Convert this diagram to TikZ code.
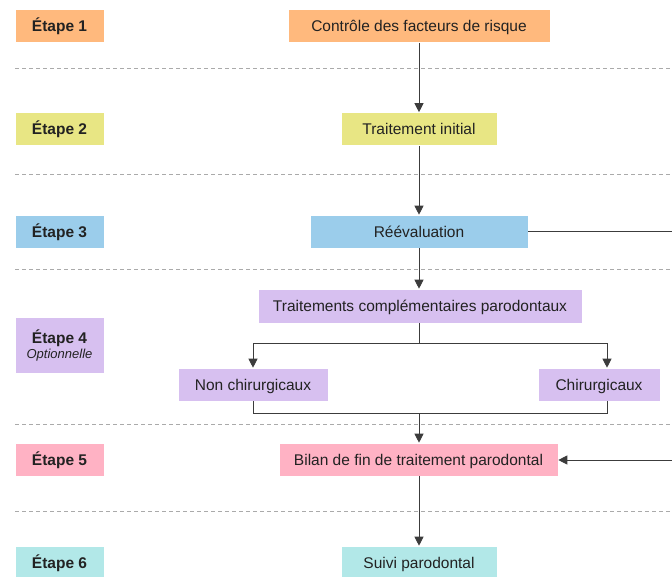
\documentclass[tikz,border=0pt]{standalone}
\usepackage{fontspec}
\setmainfont{Liberation Sans}
\usetikzlibrary{arrows.meta}
\definecolor{cOrange}{RGB}{255,185,125}
\definecolor{cYellow}{RGB}{232,230,132}
\definecolor{cBlue}{RGB}{155,205,235}
\definecolor{cPurple}{RGB}{215,192,240}
\definecolor{cPink}{RGB}{255,178,196}
\definecolor{cCyan}{RGB}{178,232,232}
\definecolor{cText}{RGB}{34,34,34}
\definecolor{cLine}{RGB}{60,60,60}
\definecolor{cDash}{RGB}{170,170,170}
\tikzset{
  box/.style={draw=white, line width=0.6pt, inner sep=0pt, minimum height=33pt, text=cText,
    font=\fontsize{15.5}{18}\selectfont, text height=11pt, text depth=0pt},
  stagebox/.style={box, minimum width=89pt, font=\fontsize{15.5}{18}\selectfont\bfseries},
  conn/.style={draw=cLine, line width=0.9pt},
  arr/.style={conn, -{Triangle[length=9pt,width=9pt]}},
  sep/.style={draw=cDash, line width=0.8pt, dash pattern=on 4pt off 3pt}
}
\begin{document}
\begin{tikzpicture}[x=1pt,y=-1pt]
\useasboundingbox (0,0) rectangle (672,576);
\clip (0,0) rectangle (672,576);
% separators
\foreach \yy in {68,174,269,424,511} \draw[sep] (15,\yy) -- (672,\yy);
% stage labels
\node[stagebox, fill=cOrange] (e1) at (59.5,26) {Étape 1};
\node[stagebox, fill=cYellow] (e2) at (59.5,129) {Étape 2};
\node[stagebox, fill=cBlue] (e3) at (59.5,231.5) {Étape 3};
\node[stagebox, fill=cPurple, minimum height=56pt, align=center, text height=, text depth=] (e4) at (59.5,345) {Étape 4\\[-3pt]{\mdseries\itshape\fontsize{13}{15}\selectfont Optionnelle}};
\node[stagebox, fill=cPink] (e5) at (59.5,459.5) {Étape 5};
\node[stagebox, fill=cCyan] (e6) at (59.5,562.5) {Étape 6};
% main flow
\node[box, fill=cOrange, minimum width=262pt] (n1) at (419,26) {Contrôle des facteurs de risque};
\node[box, fill=cYellow, minimum width=156pt] (n2) at (419,129) {Traitement initial};
\node[box, fill=cBlue, minimum width=218pt] (n3) at (419,231.5) {Réévaluation};
\node[box, fill=cPurple, minimum width=324pt, minimum height=34pt] (n4) at (420,306) {Traitements complémentaires parodontaux};
\node[box, fill=cPurple, minimum width=150pt] (n5) at (253,384.5) {Non chirurgicaux};
\node[box, fill=cPurple, minimum width=122pt] (n6) at (599,384.5) {Chirurgicaux};
\node[box, fill=cPink, minimum width=279pt] (n7) at (418.5,459.5) {Bilan de fin de traitement parodontal};
\node[box, fill=cCyan, minimum width=156pt] (n8) at (419,562.5) {Suivi parodontal};
% helper coordinates
\coordinate (split) at (419,343);
\coordinate (merge) at (419,413);
\coordinate (rightX) at (607,343);
\coordinate (fbTop) at (690,231.5);
\coordinate (fbBot) at (690,460);
% connectors
\draw[arr] (n1.south -| split) -- (n2.north -| split);
\draw[arr] (n2.south -| split) -- (n3.north -| split);
\draw[arr] (n3.south -| split) -- (n4.north -| split);
\draw[conn] (n4.south -| split) -- (split);
\draw[arr] (split) -| (n5.north);
\draw[arr] (split) -| (n6.north -| rightX);
\draw[conn] (n5.south) |- (merge);
\draw[conn] (n6.south -| rightX) |- (merge);
\draw[arr] (merge) -- (n7.north -| merge);
\draw[arr] (n7.south -| merge) -- (n8.north -| merge);
\draw[conn] (n3.east) -- (fbTop) -- (fbBot);
\draw[arr] (fbBot) -- (n7.east |- fbBot);
\end{tikzpicture}
\end{document}
